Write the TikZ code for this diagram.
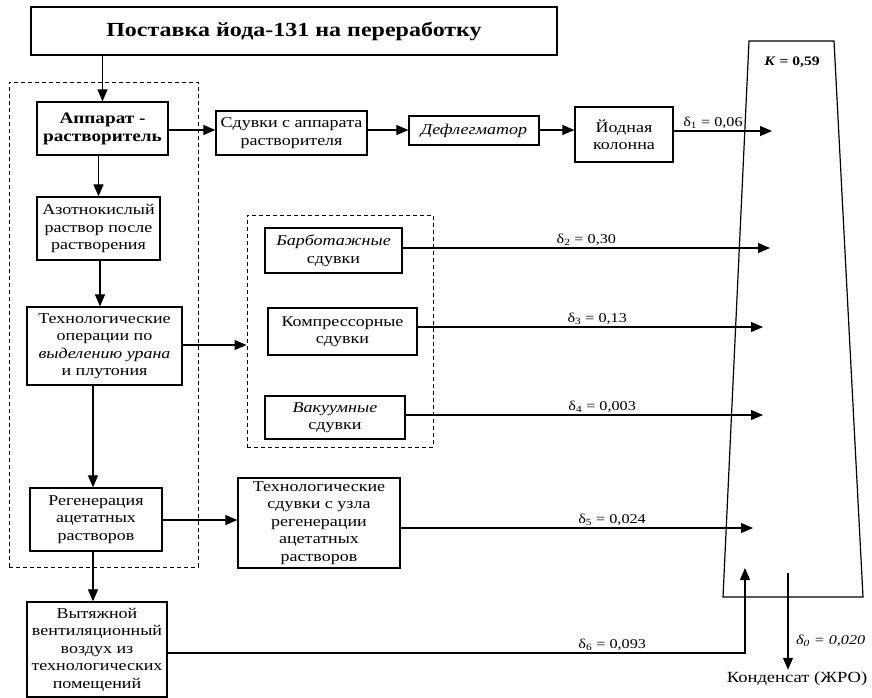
\documentclass[tikz,border=0pt]{standalone}
\usepackage{fontspec}
\setmainfont[FakeStretch=1.2]{Liberation Serif}
\usetikzlibrary{arrows.meta}
\begin{document}
\begin{tikzpicture}[x=1pt,y=-1pt,
  every node/.style={font=\fontsize{15}{17.5}\selectfont},
  box/.style={draw,line width=1.3pt,inner sep=1pt,align=center},
  grp/.style={draw,dashed,line width=1pt,dash pattern=on 4pt off 3pt},
  arr/.style={line width=1.1pt,-{Triangle[length=12pt,width=10pt]}},
  lbl/.style={font=\fontsize{13.5}{15}\selectfont,inner sep=1.5pt}]
\useasboundingbox (0,0) rectangle (872,697);
% groups
\node[grp,minimum width=189pt,minimum height=485pt] (grp1) at (103.5,324.5) {};
\node[grp,minimum width=186pt,minimum height=232pt] (grp2) at (340,331) {};
% boxes
\node[box,minimum width=526pt,minimum height=48pt,font=\fontsize{20}{22}\selectfont\bfseries] (title) at (294,31) {Поставка йода-131 на переработку};
\node[box,minimum width=131pt,minimum height=53pt,font=\fontsize{16}{18}\selectfont\bfseries] (app) at (102.5,128.5) {Аппарат -\\растворитель};
\node[box,minimum width=151pt,minimum height=44pt] (sduv) at (291.5,133) {Сдувки с аппарата\\растворителя};
\node[box,minimum width=130pt,minimum height=29pt] (defl) at (474,130.5) {\itshape Дефлегматор};
\node[box,minimum width=98pt,minimum height=55pt] (iod) at (624,134.5) {Йодная\\колонна};
\node[box,minimum width=123pt,minimum height=63pt] (azot) at (98.5,228.5) {Азотнокислый\\раствор после\\растворения};
\node[box,minimum width=155pt,minimum height=78pt] (tech) at (104.5,346) {Технологические\\операции по\\\textit{выделению урана}\\и плутония};
\node[box,minimum width=137pt,minimum height=45pt] (barb) at (333.5,250.5) {\textit{Барботажные}\\сдувки};
\node[box,minimum width=149pt,minimum height=47pt] (komp) at (342.5,331.5) {Компрессорные\\сдувки};
\node[box,minimum width=140pt,minimum height=43pt] (vak) at (335,417.5) {\textit{Вакуумные}\\сдувки};
\node[box,minimum width=132pt,minimum height=63pt] (regen) at (96,519.5) {Регенерация\\ацетатных\\растворов};
\node[box,minimum width=162pt,minimum height=90pt] (techs) at (319,523) {Технологические\\сдувки с узла\\регенерации\\ацетатных\\растворов};
\node[box,minimum width=140pt,minimum height=95pt] (vyt) at (97,649.5) {Вытяжной\\вентиляционный\\воздух из\\технологических\\помещений};
% collector
\draw[line width=1.2pt] (749,41) -- (834,41) -- (863,597) -- (723,597) -- cycle;
\node[font=\fontsize{13}{15}\selectfont\bfseries] (K) at (792,62) {\textit{K} = 0,59};
% end coordinates
\coordinate (e1) at (772,131);
\coordinate (e2) at (770,248);
\coordinate (e3) at (763,327);
\coordinate (e4) at (763,415);
\coordinate (e5) at (753,528);
\coordinate (c6) at (745,653);
\coordinate (e6) at (745,568);
\coordinate (s0) at (788,573);
\node[font=\fontsize{15.5}{17}\selectfont,inner sep=2pt] (kond) at (797,679) {Конденсат (ЖРО)};
% connectors
\draw[arr] (title.south -| app.north) -- (app.north);
\draw[arr] (app.south -| azot.north) -- (azot.north);
\draw[arr] (azot.south -| 100,0) -- (tech.north -| 100,0);
\draw[arr] (tech.south -| 93,0) -- (regen.north -| 93,0);
\draw[arr] (regen.south -| 93,0) -- (vyt.north -| 93,0);
\draw[arr] (app.east |- 0,130) -- (sduv.west |- 0,130);
\draw[arr] (sduv.east |- 0,130) -- (defl.west |- 0,130);
\draw[arr] (defl.east |- 0,130) -- (iod.west |- 0,130);
\draw[arr] (iod.east |- e1) -- node[lbl,above,pos=0.4] {δ\textsubscript{1} = 0,06} (e1);
\draw[arr] (tech.east |- 0,345) -- (grp2.west |- 0,345);
\draw[arr] (barb.east |- e2) -- node[lbl,above,pos=0.5] {δ\textsubscript{2} = 0,30} (e2);
\draw[arr] (komp.east |- e3) -- node[lbl,above,pos=0.52] {δ\textsubscript{3} = 0,13} (e3);
\draw[arr] (vak.east |- e4) -- node[lbl,above,pos=0.55] {δ\textsubscript{4} = 0,003} (e4);
\draw[arr] (regen.east |- 0,520) -- (techs.west |- 0,520);
\draw[arr] (techs.east |- e5) -- node[lbl,above,pos=0.6] {δ\textsubscript{5} = 0,024} (e5);
\draw[arr] (vyt.east |- c6) -- node[lbl,above,pos=0.77] {δ\textsubscript{6} = 0,093} (c6) -- (e6);
\draw[arr] (s0) -- node[lbl,right=6pt,pos=0.7,font=\fontsize{13.5}{15}\selectfont\itshape] {δ\textsubscript{0} = 0,020} (kond.north -| s0);
\end{tikzpicture}
\end{document}
